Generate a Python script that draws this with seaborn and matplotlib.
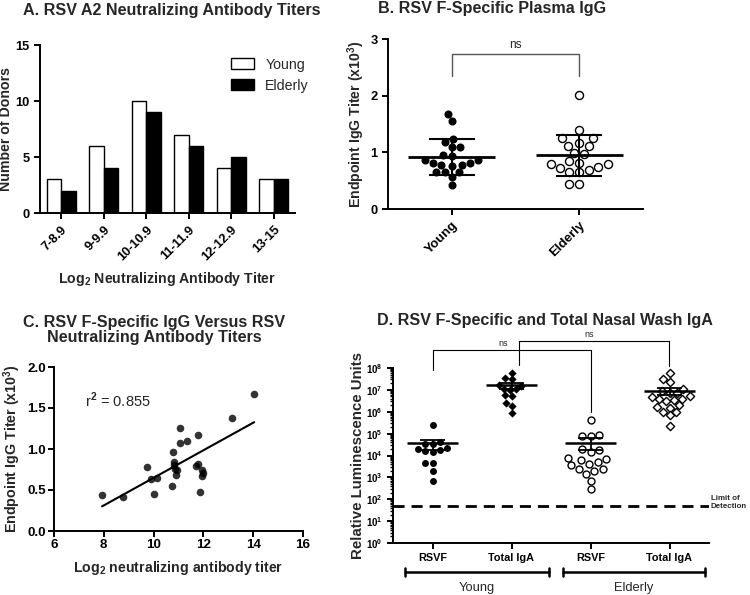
import numpy as np
import pandas as pd
import matplotlib
matplotlib.use("Agg")
import matplotlib.pyplot as plt
import seaborn as sns

# A. neutralizing antibody titer bins (number of donors)
titer_bins = ["7-8.9", "9-9.9", "10-10.9", "11-11.9", "12-12.9", "13-15"]
young_counts = [3, 6, 10, 7, 4, 3]
elderly_counts = [2, 4, 9, 6, 5, 3]

# B. RSV F-specific plasma IgG (x10^3)
young_igg = [1.68, 1.55, 1.23, 1.18, 1.09, 1.09, 0.96, 0.94, 0.86, 0.86,
             0.81, 0.78, 0.76, 0.78, 0.81, 0.66, 0.65, 0.65, 0.57, 0.42]
elderly_igg = [2.01, 1.39, 1.26, 1.26, 1.12, 1.11, 1.17, 0.99, 0.97, 0.84,
               0.82, 0.79, 0.79, 0.72, 0.75, 0.66, 0.65, 0.69, 0.45, 0.45]

# C. IgG vs neutralizing titer
neut_log2 = [7.93, 8.78, 9.72, 9.88, 10.01, 10.15, 10.74, 10.79, 10.82, 10.82,
             10.86, 10.89, 10.93, 11.06, 11.06, 11.33, 11.69, 11.77, 11.79, 11.87,
             11.93, 11.96, 12.0, 13.14, 14.04]
igg_c = [0.44, 0.42, 0.78, 0.64, 0.45, 0.65, 0.55, 0.96, 0.84, 0.80,
         0.76, 0.68, 0.74, 1.07, 1.26, 1.10, 0.79, 0.82, 1.17, 0.48,
         0.67, 0.74, 0.71, 1.38, 1.67]
r2_text = "r$^2$ = 0.855"

# D. nasal wash IgA (RLU)
young_rsvf = [2.5e5, 4e4, 3.5e4, 3.5e4, 2.2e4, 2e4, 1.8e4, 1.6e4, 1.5e4, 4.5e3, 4.5e3, 2e3, 7e2]
young_total = [6e7, 3.5e7, 3.2e7, 1.6e7, 1.5e7, 1.1e7, 1.1e7, 1e7, 6e6, 5.5e6, 2.5e6, 1.9e6, 9e5]
elderly_rsvf = [4e5, 9e4, 8e4, 8e4, 2e4, 1.8e4, 1.5e4, 8e3, 7e3, 6e3, 5e3, 4e3, 3.5e3,
                2.5e3, 2.5e3, 2e3, 1.5e3, 7e2, 2.8e2]
elderly_total = [6e7, 3e7, 2.2e7, 1.1e7, 9e6, 7e6, 7e6, 5e6, 4.5e6, 4e6, 4e6, 3.5e6, 3e6,
                 2e6, 1.6e6, 1.5e6, 1e6, 1e6, 7e5, 2.2e5]
d_groups = ["Young RSVF", "Young Total", "Elderly RSVF", "Elderly Total"]
d_ticklabels = ["RSVF", "Total IgA", "RSVF", "Total IgA"]
limit_of_detection = 50

sns.set_theme(style="ticks")
plt.rcParams["font.family"] = ["Liberation Sans", "DejaVu Sans"]
plt.rcParams["font.weight"] = "bold"
plt.rcParams["axes.labelweight"] = "bold"
plt.rcParams["mathtext.fontset"] = "custom"
plt.rcParams["mathtext.rm"] = "Liberation Sans"
plt.rcParams["mathtext.bf"] = "Liberation Sans:bold"
plt.rcParams["axes.linewidth"] = 1.4
plt.rcParams["xtick.major.width"] = 1.4
plt.rcParams["ytick.major.width"] = 1.4
plt.rcParams["xtick.major.size"] = 4
plt.rcParams["ytick.major.size"] = 4
plt.rcParams["axes.edgecolor"] = "black"
plt.rcParams["xtick.color"] = "black"
plt.rcParams["ytick.color"] = "black"

W, H = 750, 595
fig = plt.figure(figsize=(7.5, 5.95), dpi=100)


def box(l, t, r, b):
    return [l / W, 1 - b / H, (r - l) / W, (b - t) / H]


TS = 11.6   # title size
LS = 10.2   # label size
KS = 9.3    # tick size

# ---------------- A ----------------
axA = fig.add_axes(box(40, 45, 295, 213))
dfA = pd.DataFrame({
    "bin": titer_bins * 2,
    "count": young_counts + elderly_counts,
    "group": ["Young"] * len(titer_bins) + ["Elderly"] * len(titer_bins),
})
sns.barplot(data=dfA, x="bin", y="count", hue="group",
            palette={"Young": "white", "Elderly": "black"},
            edgecolor="black", linewidth=1, width=0.68, ax=axA)
axA.set_xlim(-0.5, 5.5)
axA.set_ylim(0, 15)
axA.set_yticks([0, 5, 10, 15])
axA.set_xlabel(r"Log$_\mathbf{2}$ Neutralizing Antibody Titer", fontsize=LS)
axA.set_ylabel("Number of Donors", fontsize=LS)
axA.xaxis.set_label_coords(0.5, -0.34)
axA.yaxis.set_label_coords(-0.104, 0.5)
axA.tick_params(labelsize=KS)
plt.setp(axA.get_xticklabels(), rotation=45, ha="right", rotation_mode="anchor")
h, l = axA.get_legend_handles_labels()
axA.legend(h, l, loc="upper left", bbox_to_anchor=(0.7, 1.0), frameon=False,
           handlelength=1.6, handleheight=0.8, labelspacing=0.5,
           prop={"weight": "normal", "size": 10.2})
sns.despine(ax=axA)
fig.text(23 / W, 1 - 11 / H, "A. RSV A2 Neutralizing Antibody Titers",
         fontsize=TS, fontweight="bold", ha="left", va="center")

# ---------------- B ----------------
axB = fig.add_axes(box(388, 39, 643, 209))
dfB = pd.DataFrame({
    "group": ["Young"] * len(young_igg) + ["Elderly"] * len(elderly_igg),
    "igg": young_igg + elderly_igg,
})
order_b = ["Young", "Elderly"]
sns.swarmplot(data=dfB[dfB.group == "Young"], x="group", y="igg", order=order_b,
              color="black", size=5.8, ax=axB)
sns.swarmplot(data=dfB[dfB.group == "Elderly"], x="group", y="igg", order=order_b,
              color="white", edgecolor="black", linewidth=1, size=5.8, ax=axB)
for i, g in enumerate(order_b):
    v = dfB.loc[dfB.group == g, "igg"].to_numpy()
    m, s = v.mean(), v.std(ddof=1)
    axB.hlines(m, i - 0.34, i + 0.34, color="black", lw=2, zorder=5)
    axB.vlines(i, m - s, m + s, color="black", lw=1.5, zorder=5)
    axB.hlines([m - s, m + s], i - 0.18, i + 0.18, color="black", lw=1.5, zorder=5)
axB.plot([0, 0, 1, 1], [2.35, 2.74, 2.74, 2.35], color="#555555", lw=1, clip_on=False)
axB.text(0.5, 2.78, "ns", ha="center", va="bottom", fontsize=8.5, fontweight="normal")
axB.set_xlim(-0.5, 1.5)
axB.set_ylim(0, 3)
axB.set_yticks([0, 1, 2, 3])
axB.set_xlabel("")
axB.set_ylabel(r"Endpoint IgG Titer (x10$^\mathbf{3}$)", fontsize=LS)
axB.yaxis.set_label_coords(-0.082, 0.5)
axB.tick_params(labelsize=KS)
plt.setp(axB.get_xticklabels(), rotation=45, ha="right", rotation_mode="anchor", fontsize=9.5)
sns.despine(ax=axB)
fig.text(378 / W, 1 - 9 / H, "B. RSV F-Specific Plasma IgG",
         fontsize=TS, fontweight="bold", ha="left", va="center")

# ---------------- C ----------------
axC = fig.add_axes(box(54, 367, 303, 531))
sns.regplot(x=neut_log2, y=igg_c, ci=None, color="black",
            scatter_kws={"s": 30, "linewidths": 0},
            line_kws={"lw": 1.5}, ax=axC)
axC.set_xlim(6, 16)
axC.set_ylim(0, 2)
axC.set_xticks([6, 8, 10, 12, 14, 16])
axC.set_yticks([0, 0.5, 1.0, 1.5, 2.0])
axC.set_yticklabels(["0.0", "0.5", "1.0", "1.5", "2.0"])
axC.text(7.25, 1.59, r2_text, fontsize=10.5, fontweight="normal", va="center")
axC.set_xlabel(r"Log$_\mathbf{2}$ neutralizing antibody titer", fontsize=LS)
axC.set_ylabel(r"Endpoint IgG Titer (x10$^\mathbf{3}$)", fontsize=10.3)
axC.xaxis.set_label_coords(0.5, -0.171)
axC.yaxis.set_label_coords(-0.125, 0.5)
axC.tick_params(labelsize=9.6, pad=2)
sns.despine(ax=axC)
fig.text(154 / W, 1 - 330 / H, "C. RSV F-Specific IgG Versus RSV\nNeutralizing Antibody Titers",
         fontsize=TS, fontweight="bold", ha="center", va="center", linespacing=1.0)

# ---------------- D ----------------
axD = fig.add_axes(box(393, 368, 709, 543))
axD.set_yscale("log")
axD.set_ylim(1, 1e8)
dfD = pd.DataFrame({
    "group": (["Young RSVF"] * len(young_rsvf) + ["Young Total"] * len(young_total)
              + ["Elderly RSVF"] * len(elderly_rsvf) + ["Elderly Total"] * len(elderly_total)),
    "rlu": young_rsvf + young_total + elderly_rsvf + elderly_total,
})
styles = {
    "Young RSVF": dict(marker="o", color="black", size=5),
    "Young Total": dict(marker="D", color="black", size=4.2),
    "Elderly RSVF": dict(marker="o", color="white", edgecolor="black", linewidth=1, size=5),
    "Elderly Total": dict(marker="D", color="white", edgecolor="black", linewidth=1, size=4.2),
}
for g in d_groups:
    sns.swarmplot(data=dfD[dfD.group == g], x="group", y="rlu", order=d_groups,
                  ax=axD, **styles[g])
for i, g in enumerate(d_groups):
    v = dfD.loc[dfD.group == g, "rlu"].to_numpy()
    m, se = v.mean(), v.std(ddof=1) / np.sqrt(len(v))
    axD.hlines(m, i - 0.32, i + 0.32, color="black", lw=1.8, zorder=5)
    axD.vlines(i, m - se, m + se, color="black", lw=1.3, zorder=5)
    axD.hlines([m - se, m + se], i - 0.16, i + 0.16, color="black", lw=1.3, zorder=5)
axD.axhline(limit_of_detection, color="black", lw=2, ls=(0, (4, 2.5)))
axD.set_xlim(-0.5, 3.5)
axD.set_yticks([10.0 ** k for k in range(9)])
axD.set_yticklabels([r"$\mathbf{10^{%d}}$" % k for k in range(9)], fontsize=7)
axD.yaxis.set_minor_locator(matplotlib.ticker.LogLocator(base=10, subs=np.arange(2, 10), numticks=20))
axD.yaxis.set_minor_formatter(matplotlib.ticker.NullFormatter())
axD.tick_params(axis="y", which="minor", length=2, width=1)
axD.set_xticks(range(4))
axD.set_xticklabels(d_ticklabels, fontsize=7.8)
axD.set_xlabel("")
axD.set_ylabel("Relative Luminescence Units", fontsize=10.8)
axD.yaxis.set_label_coords(-0.089, 0.5)
sns.despine(ax=axD)

# significance brackets
axD.plot([0, 0, 2, 2], [10 ** 7.92, 10 ** 8.84, 10 ** 8.84, 10 ** 6.0], color="black", lw=0.8, clip_on=False)
axD.text(0.89, 10 ** 8.9, "ns", ha="center", va="bottom", fontsize=6.5, fontweight="normal")
axD.plot([1.09, 1.09, 2.99, 2.99], [10 ** 8.15, 10 ** 9.25, 10 ** 9.25, 10 ** 8.07], color="black", lw=0.8, clip_on=False)
axD.text(1.98, 10 ** 9.32, "ns", ha="center", va="bottom", fontsize=6.5, fontweight="normal")

# limit of detection label
axD.text(1.005, 10 ** 1.85, "Limit of\nDetection", transform=axD.get_yaxis_transform(),
         fontsize=5.7, fontweight="bold", va="center", ha="left")

# group brackets under the axis
trD = axD.get_xaxis_transform()
for (x0, x1, name) in [(-0.35, 1.47, "Young"), (1.65, 3.45, "Elderly")]:
    axD.plot([x0, x1], [-0.166, -0.166], transform=trD, color="black", lw=1.8, clip_on=False)
    axD.plot([x0, x0], [-0.14, -0.19], transform=trD, color="black", lw=1.8, clip_on=False)
    axD.plot([x1, x1], [-0.14, -0.19], transform=trD, color="black", lw=1.8, clip_on=False)
    axD.text((x0 + x1) / 2, -0.257, name, transform=trD, ha="center", va="center",
             fontsize=9.3, fontweight="normal")
fig.text(377 / W, 1 - 320 / H, "D. RSV F-Specific and Total Nasal Wash IgA",
         fontsize=TS, fontweight="bold", ha="left", va="center")

fig.savefig("out.png", dpi=100)
